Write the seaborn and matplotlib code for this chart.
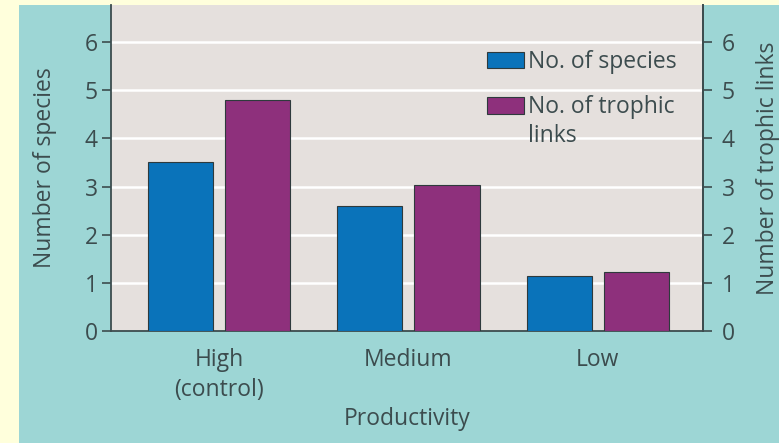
import matplotlib
matplotlib.use("Agg")
import matplotlib.pyplot as plt
from matplotlib.patches import Rectangle
import pandas as pd
import seaborn as sns

# Food-web response to productivity
categories = ["High\n(control)", "Medium", "Low"]
species = [3.5, 2.6, 1.15]
trophic_links = [4.8, 3.03, 1.23]
series_names = ["No. of species", "No. of trophic links"]
yticks = [0, 1, 2, 3, 4, 5, 6]

df = pd.DataFrame({
    "Productivity": categories * 2,
    "value": species + trophic_links,
    "series": [series_names[0]] * 3 + [series_names[1]] * 3,
})

TEAL = "#9dd6d5"
YELLOW = "#ffffdc"
PANEL = "#e5e0dd"
INK = "#3c4c4e"
BLUE = "#0a73ba"
PURPLE = "#8e307c"
EDGE = "#2e3a3c"

sns.set_theme(style="white")
plt.rcParams["font.family"] = ["Open Sans", "DejaVu Sans"]

W, H = 779, 443
fig = plt.figure(figsize=(W / 100, H / 100), dpi=100, facecolor=TEAL)

# pale page margin on the left and top
fig.patches.append(Rectangle((0, 0), 19 / W, 1, transform=fig.transFigure,
                             facecolor=YELLOW, edgecolor="none", zorder=-1))
fig.patches.append(Rectangle((0, 1 - 5 / H), 1, 5 / H, transform=fig.transFigure,
                             facecolor=YELLOW, edgecolor="none", zorder=-1))

left, right, bottom, top = 111, 703, 331, 5
aw, ah = right - left, bottom - top
ax = fig.add_axes([left / W, 1 - bottom / H, aw / W, ah / H])
ax.set_facecolor(PANEL)

sns.barplot(data=df, x="Productivity", y="value", hue="series",
            palette=[BLUE, PURPLE], saturation=1, width=0.815, gap=0.156,
            edgecolor=EDGE, linewidth=0.8, ax=ax, legend=False, zorder=3)

ax.set_ylim(0, 6.77)
ax.set_xlim(-0.571, 2.556)
ax.set_yticks(yticks)
ax.set_yticklabels([str(t) for t in yticks])
for t in yticks[1:]:
    ax.axhline(t, color="white", lw=1.8, zorder=1)

fs = 16.5
ax.set_xlabel("Productivity", fontsize=fs, color=INK)
ax.xaxis.set_label_coords(0.5, (bottom - 419) / ah, transform=ax.transAxes)
ax.xaxis.label.set_va("center")
ax.set_ylabel("Number of species", fontsize=fs, color=INK)
ax.yaxis.set_label_coords((45 - left) / aw, 0.5)
ax.yaxis.label.set_va("center")
ax.tick_params(axis="x", length=0, pad=12, labelsize=fs, labelcolor=INK)
ax.tick_params(axis="y", length=6.5, width=1.2, color=INK, direction="out",
               pad=3, labelsize=fs, labelcolor=INK, left=True)
for lbl in ax.get_xticklabels():
    lbl.set_linespacing(1.35)

for side in ["left", "bottom", "right"]:
    ax.spines[side].set_visible(True)
    ax.spines[side].set_color(INK)
    ax.spines[side].set_linewidth(1.3)
ax.spines["top"].set_visible(False)

# right-hand axis for trophic links (same scale)
ax2 = ax.twinx()
ax2.set_ylim(ax.get_ylim())
ax2.set_yticks(yticks)
ax2.set_yticklabels([str(t) for t in yticks])
ax2.tick_params(axis="y", length=6.5, width=1.2, color=INK, direction="out",
                pad=7, labelsize=fs, labelcolor=INK)
ax2.set_ylabel("Number of trophic links", fontsize=fs, color=INK)
ax2.yaxis.set_label_coords((768 - left) / aw, 0.5)
ax2.yaxis.label.set_va("center")
for side in ["left", "bottom", "top"]:
    ax2.spines[side].set_visible(False)
ax2.spines["right"].set_color(INK)
ax2.spines["right"].set_linewidth(1.3)

# legend: second label wraps onto a line of its own
first, rest = series_names[1].rsplit(" ", 1)
handles = [Rectangle((0, 0), 1, 1, facecolor=c, edgecolor=EDGE, linewidth=0.8)
           for c in (BLUE, PURPLE)]
leg = ax.legend(handles, [series_names[0], first], loc="upper left",
                bbox_to_anchor=((487 - left) / aw, 1 - (50 - top) / ah),
                frameon=False, fontsize=fs, borderpad=0, borderaxespad=0,
                handlelength=1.6, handleheight=0.75, handletextpad=0.2,
                labelspacing=0.93, labelcolor=INK)
leg.set_zorder(5)
ax.text((528 - left) / aw, 1 - (136 - top) / ah, rest, transform=ax.transAxes,
        fontsize=fs, color=INK, ha="left", va="center", zorder=5)

fig.savefig("out.png", dpi=100, facecolor=TEAL)
